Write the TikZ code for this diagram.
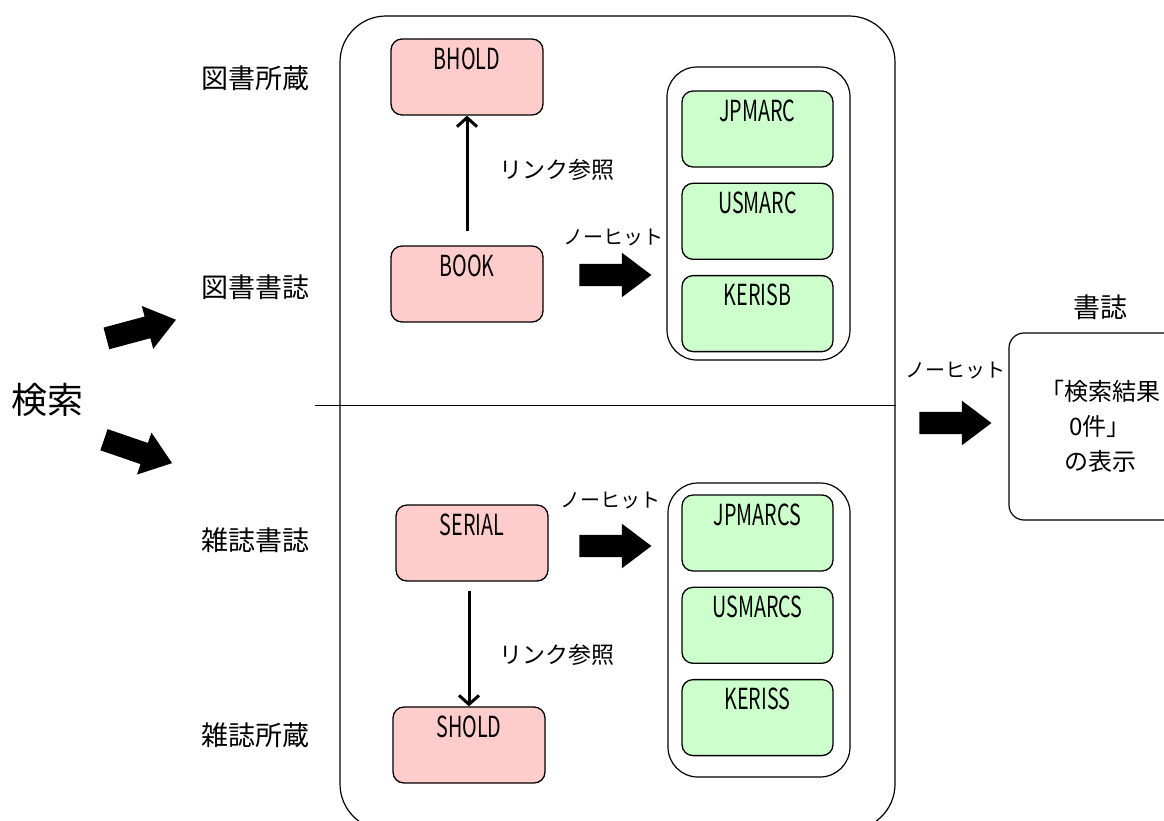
\documentclass[tikz,border=0pt]{standalone}
\usepackage{fontspec}
\setmainfont{Noto Sans CJK JP}
\newfontfamily\boxfont[FakeStretch=0.68]{Noto Sans CJK JP}
\usetikzlibrary{positioning,shapes.arrows,arrows.meta}

\definecolor{recpink}{HTML}{FFCCCC}
\definecolor{srcgreen}{HTML}{CCFFCC}

\begin{document}
\begin{tikzpicture}[x=1pt,y=-1pt,
rec/.style={draw,line width=1.3pt,rounded corners=11pt,minimum width=152pt,
  minimum height=76pt,inner xsep=0pt,inner ysep=7pt,text height=23pt,text depth=39pt,
  font=\boxfont\fontsize{29}{30}\selectfont},
book/.style={rec,fill=recpink},
src/.style={rec,fill=srcgreen,minimum width=151pt},
grp/.style={draw,line width=1.2pt,rounded corners=30pt,inner sep=0pt},
blk/.style={single arrow,fill=black,draw=none,inner sep=0pt,minimum height=72pt,
  text height=11pt,text depth=11pt,text width=0pt,
  single arrow head extend=11pt,single arrow tip angle=74},
lbl/.style={font=\fontsize{27}{30}\selectfont,inner sep=0pt},
note/.style={font=\fontsize{23}{26}\selectfont,inner sep=0pt},
miss/.style={font=\fontsize{20}{24}\selectfont,inner sep=0pt},
link/.style={line width=3pt,-{Straight Barb[length=9pt,width=20pt,line width=3pt]}}]

\useasboundingbox (0,0) rectangle (1164,820);
\clip (0,0) rectangle (1164,820);

% outer frame
\node[grp,rounded corners=46pt,minimum width=555pt,minimum height=814pt] (main) at (617.5,423) {};
\coordinate (split) at (315,405);
\draw[line width=1pt] (split) -- (split -| main.east);

% left column
\node[font=\fontsize{36}{40}\selectfont,anchor=west,inner sep=0pt] (search) at (11,400) {検索};
\node[blk,rotate=15] (up) at (134,331) {};
\node[blk,rotate=-19] (down) at (131,449) {};

\node[lbl,anchor=west] (bholdlbl) at (201,78) {図書所蔵};
\node[lbl,anchor=west] (booklbl) at (201,287) {図書書誌};
\node[lbl,anchor=west] (seriallbl) at (201,540) {雑誌書誌};
\node[lbl,anchor=west] (sholdlbl) at (201,735) {雑誌所蔵};

% local tables
\node[book] (bhold) at (467,77) {BHOLD};
\node[book] (bk) at (467,284) {BOOK};
\node[book] (serial) at (472,543) {SERIAL};
\node[book] (shold) at (469,745) {SHOLD};

\draw[link,shorten <=14pt] (bk.north) -- (bhold.south);
\draw[link,shorten <=9pt] (serial.south -| shold.north) -- (shold.north);
\node[note] (ref1) at (557,170) {リンク参照};
\node[note] (ref2) at (557,655) {リンク参照};

% outside sources, books
\node[grp,minimum width=183pt,minimum height=293pt] (bookgrp) at (758.5,213.5) {};
\node[src] (jpmarc) at (757.5,129) {JPMARC};
\node[src,below=15pt of jpmarc] (usmarc) {USMARC};
\node[src,below=15pt of usmarc] (kerisb) {KERISB};

\node[blk] (bkmiss) at (608,275) {};
\node[miss] (bkmisslbl) at (613,238) {ノーヒット};

% outside sources, serials
\node[grp,minimum width=182pt,minimum height=294pt] (serialgrp) at (759,630) {};
\node[src] (jpmarcs) at (757.5,533) {JPMARCS};
\node[src,below=15pt of jpmarcs] (usmarcs) {USMARCS};
\node[src,below=15pt of usmarcs] (keriss) {KERISS};

\node[blk] (srmiss) at (608,546) {};
\node[miss] (srmisslbl) at (610,500) {ノーヒット};

% result
\node[blk] (allmiss) at (948,423) {};
\node[miss] (allmisslbl) at (955,371) {ノーヒット};
\node[draw,line width=1.2pt,rounded corners=15pt,minimum width=182pt,minimum height=187pt,
  align=center,font=\fontsize{24}{35}\selectfont] (result) at (1100,426.5)
  {「検索結果\\0件」\\の表示};
\node[lbl,above=12pt of result] (resultlbl) {書誌};
\end{tikzpicture}
\end{document}
